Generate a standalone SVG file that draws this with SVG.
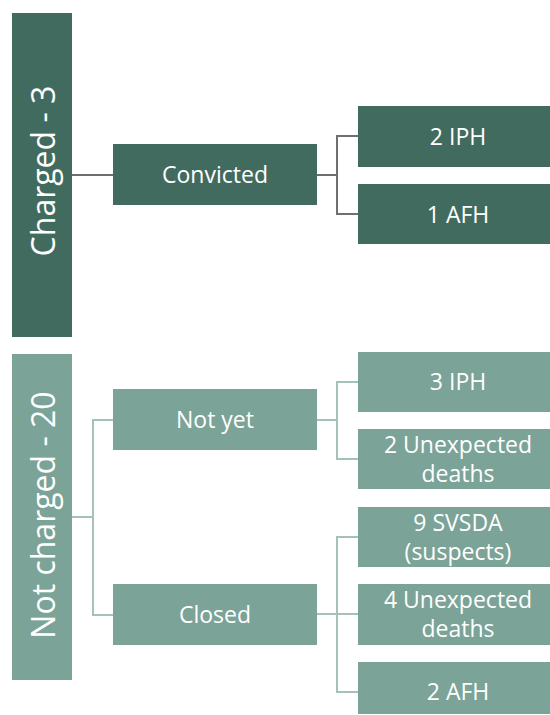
<svg xmlns="http://www.w3.org/2000/svg" width="550" height="715" viewBox="0 0 550 715">
<style>
.d{fill:#426b5f}
.l{fill:#7ba397}
.t{fill:#ffffff;font-family:"Open Sans","Liberation Sans",sans-serif;font-size:23px;text-anchor:middle;dominant-baseline:central}
.big{font-size:32px}
.cd{fill:none;stroke:#6f6f6f;stroke-width:2}
.cl{fill:none;stroke:#a5c2b8;stroke-width:2}
</style>
<rect width="550" height="715" fill="#ffffff"/>
<g id="connectors">
<path class="cd" d="M72 175H113"/>
<path class="cd" d="M317 175H337M358 136H337V214H358"/>
<path class="cl" d="M72 517H93M113 420H93V615H113"/>
<path class="cl" d="M317 420H337M358 382H337V459H358"/>
<path class="cl" d="M317 614H358M358 537H337V692H358"/>
</g>
<g id="charged"><rect class="d" x="12" y="13" width="60" height="324"/><text class="t big" transform="translate(42 171) rotate(-90)">Charged - 3</text></g>
<g id="convicted"><rect class="d" x="113" y="144" width="204" height="61"/><text class="t" x="215" y="174">Convicted</text></g>
<g id="iph2"><rect class="d" x="358" y="106" width="204" height="61"/><text class="t" x="458" y="136">2 IPH</text></g>
<g id="afh1"><rect class="d" x="358" y="184" width="204" height="60"/><text class="t" x="458" y="214">1 AFH</text></g>
<g id="notcharged"><rect class="l" x="12" y="354" width="60" height="326"/><text class="t big" transform="translate(42 515) rotate(-90)">Not charged - 20</text></g>
<g id="notyet"><rect class="l" x="113" y="389" width="204" height="61"/><text class="t" x="215" y="419">Not yet</text></g>
<g id="closed"><rect class="l" x="113" y="584" width="204" height="61"/><text class="t" x="215" y="614">Closed</text></g>
<g id="iph3"><rect class="l" x="358" y="352" width="204" height="60"/><text class="t" x="458" y="381">3 IPH</text></g>
<g id="unexp2"><rect class="l" x="358" y="429" width="204" height="60"/><text class="t" x="458" y="444">2 Unexpected</text><text class="t" x="458" y="473">deaths</text></g>
<g id="svsda"><rect class="l" x="358" y="507" width="204" height="60"/><text class="t" x="458" y="522">9 SVSDA</text><text class="t" x="458" y="551">(suspects)</text></g>
<g id="unexp4"><rect class="l" x="358" y="584" width="204" height="61"/><text class="t" x="458" y="599">4 Unexpected</text><text class="t" x="458" y="628">deaths</text></g>
<g id="afh2"><rect class="l" x="358" y="662" width="204" height="52"/><text class="t" x="458" y="691">2 AFH</text></g>
</svg>
